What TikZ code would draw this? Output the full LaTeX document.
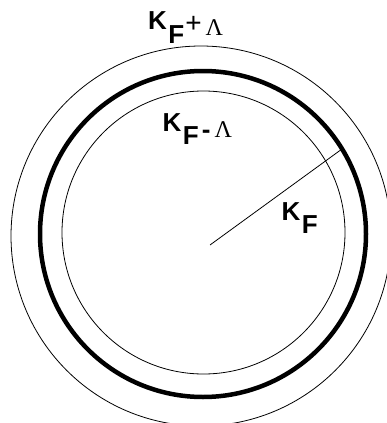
\documentclass[tikz,border=0pt]{standalone}
\usepackage{fontspec}
\setmainfont{Liberation Sans}
\newfontfamily\lamfont{Liberation Serif}
\newcommand{\kF}[1]{\textbf{K}\hspace{1.5pt}\raisebox{-#1}{\textbf{F}}}
\newcommand{\lam}[1]{\raisebox{-#1}{\fontsize{24}{24}\lamfont Λ}}

\begin{document}
\begin{tikzpicture}[x=1pt,y=-1pt,
  ring/.style={line width=0.8pt},
  fermi/.style={line width=4.5pt},
  lbl/.style={anchor=base west,inner sep=0pt,font=\fontsize{26}{26}\selectfont}
]
\useasboundingbox (0,0) rectangle (387,423);
\clip (0,0) rectangle (387,423);
% shells
\draw[ring] (201,236) circle[radius=190];
\draw[fermi] (203,234) circle[radius=163];
\draw[ring] (203.5,232.5) circle[radius=141.5];
% radius
\coordinate (centre) at (210,245);
\coordinate (edge) at (342,149);
\draw[ring] (centre) -- (edge);
% labels
\node[lbl] (outer) at (148,29.5) {\kF{14pt}\hspace{1pt}\raisebox{-3pt}{\fontsize{28}{28}\selectfont +}\hspace{4pt}\lam{6pt}};
\node[lbl] (inner) at (162.5,131) {\kF{13pt}\hspace{3pt}\raisebox{-7pt}{\textbf{-}}\hspace{4pt}\lam{6pt}};
\node[lbl] (fermilbl) at (281.5,220) {\kF{13pt}};
\end{tikzpicture}
\end{document}
